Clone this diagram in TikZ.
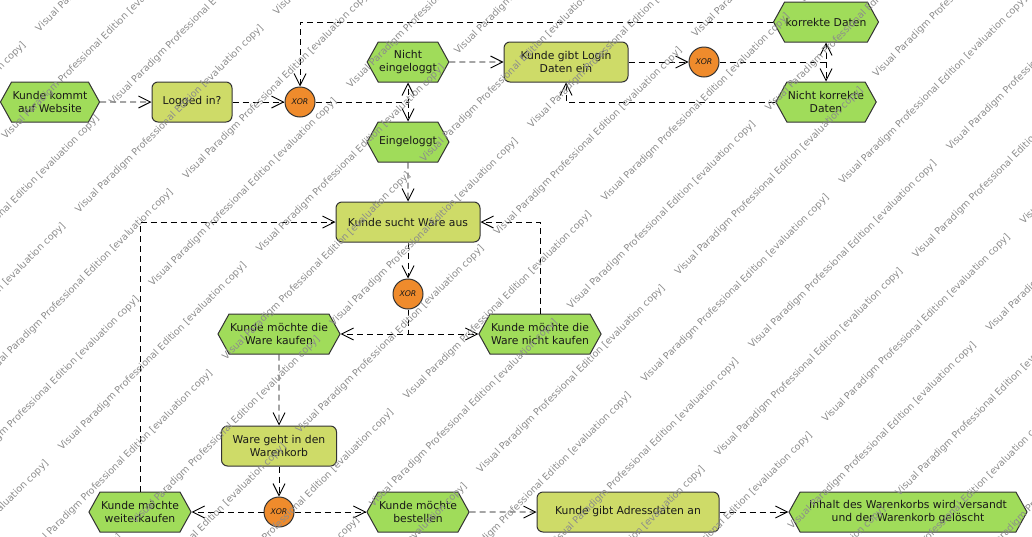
\documentclass[tikz,border=0pt]{standalone}
\usepackage{fontspec}
\setmainfont{DejaVu Sans}
\usepackage{tikz}
\usetikzlibrary{arrows.meta,shapes.symbols}
\definecolor{eventgreen}{RGB}{160,220,90}
\definecolor{funcyellow}{RGB}{206,219,104}
\definecolor{xororange}{RGB}{239,139,44}

\begin{document}
\begin{tikzpicture}[x=1pt, y=-1pt, >={Straight Barb[length=12pt,width=12pt]},
    every node/.style={font=\fontsize{10.8}{13.5}\selectfont, text=black!90},
    event/.style={signal, signal to=west and east, signal pointer angle=122, draw=black!80, line width=1pt, fill=eventgreen, minimum height=40pt, inner xsep=1pt, align=center},
    func/.style={rectangle, rounded corners=6pt, draw=black!80, line width=1pt, fill=funcyellow, minimum height=40pt, align=center},
    xor/.style={circle, draw=black!80, line width=1pt, fill=xororange, minimum size=30pt, inner sep=0pt, font=\fontsize{7.8}{9}\selectfont\itshape},
    flow/.style={->, line width=0.9pt, dash pattern=on 6pt off 4pt},
    watermark/.style={rotate=45, anchor=west, inner sep=0pt, text=black!45, font=\fontsize{9.6}{11}\selectfont}]
    \useasboundingbox (0,0) rectangle (1032,536);

    % Login part
    \node (kommt) at (50,102) [event, minimum width=93pt] {Kunde kommt\\auf Website};
    \node (logged) at (192,102) [func, minimum width=80pt] {Logged in?};
    \node (xorA) at (300,102) [xor] {XOR};
    \node (nicht) at (408,62) [event, minimum width=78pt] {Nicht\\eingeloggt};
    \node (eingeloggt) at (408,142) [event, minimum width=78pt] {Eingeloggt};
    \node (login) at (566,62) [func, minimum width=124pt] {Kunde gibt Login\\Daten ein};
    \node (xorB) at (704,62) [xor] {XOR};
    \node (korrekt) at (826,22) [event, minimum width=90pt] {korrekte Daten};
    \node (nkorrekt) at (826,102) [event, minimum width=90pt] {Nicht korrekte\\Daten};

    % Choosing goods
    \node (sucht) at (408,222) [func, minimum width=144pt] {Kunde sucht Ware aus};
    \node (xorC) at (408,294) [xor] {XOR};
    \node (kaufen) at (279,334) [event, minimum width=111pt] {Kunde möchte die\\Ware kaufen};
    \node (nkaufen) at (540,334) [event, minimum width=116pt] {Kunde möchte die\\Ware nicht kaufen};
    \node (korb) at (279,446) [func, minimum width=115pt] {Ware geht in den\\Warenkorb};
    \node (xorD) at (279,512) [xor] {XOR};
    \node (weiter) at (140,512) [event, minimum width=95pt] {Kunde möchte\\weiterkaufen};
    \node (bestellen) at (418,512) [event, minimum width=97pt] {Kunde möchte\\bestellen};
    \node (adresse) at (628,512) [func, minimum width=182pt] {Kunde gibt Adressdaten an};
    \node (versand) at (908,512) [event, minimum width=238pt] {Inhalt des Warenkorbs wird versandt\\und der Warenkorb gelöscht};

    % Control flow
    \coordinate (jA) at (xorA -| nicht);
    \coordinate (jB) at (xorB -| korrekt);
    \coordinate (jC) at (xorC |- kaufen);
    \draw[flow] (kommt) -- (logged);
    \draw[flow] (logged) -- (xorA);
    \draw[flow] (xorA) -- (jA) -- (nicht.south);
    \draw[flow] (jA) -- (eingeloggt.north);
    \draw[flow] (nicht) -- (login);
    \draw[flow] (login) -- (xorB);
    \draw[flow] (xorB) -- (jB) -- (korrekt.south);
    \draw[flow] (jB) -- (nkorrekt.north);
    \draw[flow] (nkorrekt.west) -| (login.south);
    \draw[flow] (korrekt.west) -| (xorA.north);
    \draw[flow] (eingeloggt) -- (sucht);
    \draw[flow] (sucht) -- (xorC);
    \draw[flow] (xorC) -- (jC) -- (kaufen.east);
    \draw[flow] (jC) -- (nkaufen.west);
    \draw[flow] (nkaufen.north) |- (sucht.east);
    \draw[flow] (kaufen) -- (korb);
    \draw[flow] (korb) -- (xorD);
    \draw[flow] (xorD) -- (weiter.east);
    \draw[flow] (weiter.north) |- (sucht.west);
    \draw[flow] (xorD) -- (bestellen.west);
    \draw[flow] (bestellen) -- (adresse);
    \draw[flow] (adresse) -- (versand);

    % Evaluation watermark
    \begin{scope}
        \clip (0,0) rectangle (1032,536);
        \foreach \n in {-14,...,9} {
            \pgfmathsetmacro\wmoff{285-100*abs(mod(\n,2))}
            \pgfmathsetmacro\wmv{672+52*\n}
            \foreach \m in {-3,...,2} {
                \pgfmathsetmacro\wmu{\wmoff+280*\m}
                \node (wm-\n-\m) at ({(\wmu+\wmv)/sqrt(2)},{(\wmv-\wmu)/sqrt(2)}) [watermark] {Visual Paradigm Professional Edition [evaluation copy]};
            }
        }
    \end{scope}
\end{tikzpicture}
\end{document}
